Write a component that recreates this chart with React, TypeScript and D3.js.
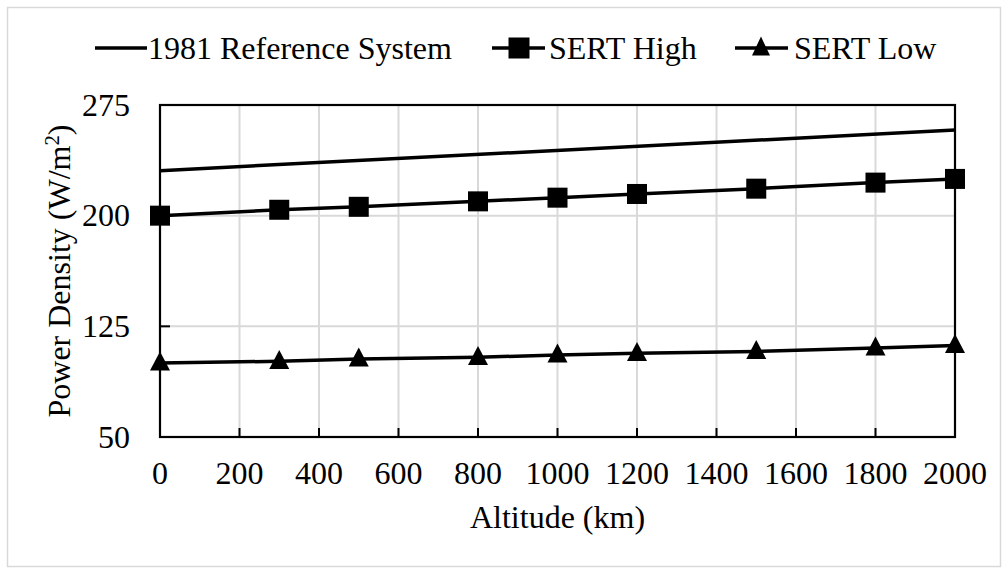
import React from "react";
import * as d3 from "d3";

const altitudes = [0, 300, 500, 800, 1000, 1200, 1500, 1800, 2000];
const sertHigh = [200, 204, 206, 209.7, 212.2, 214.7, 218.3, 222.4, 224.9];
const sertLow = [100.2, 101.3, 102.9, 104, 105.6, 106.7, 108, 110.4, 112];
const refAltitudes = [0, 2000];
const refValues = [230.5, 258];
const xTicks = [0, 200, 400, 600, 800, 1000, 1200, 1400, 1600, 1800, 2000];
const yTicks = [50, 125, 200, 275];
const seriesNames = ["1981 Reference System", "SERT High", "SERT Low"];

const W = 1008;
const H = 568;
const plot = { left: 160, right: 955, top: 105, bottom: 437 };
const FONT = "'Liberation Serif', 'Times New Roman', serif";
const FS = 32;

function Square({ x, y, s }: { x: number; y: number; s: number }) {
  return <rect x={x - s / 2} y={y - s / 2} width={s} height={s} fill="#000" />;
}
function Triangle({ x, y, w, h }: { x: number; y: number; w: number; h: number }) {
  return (
    <path
      d={`M${x},${y - h * 0.6}L${x + w / 2},${y + h * 0.4}L${x - w / 2},${y + h * 0.4}Z`}
      fill="#000"
    />
  );
}

export default function App() {
  const x = d3.scaleLinear().domain([0, 2000]).range([plot.left, plot.right]);
  const y = d3.scaleLinear().domain([50, 275]).range([plot.bottom, plot.top]);
  const line = d3
    .line<[number, number]>()
    .x((d) => x(d[0]))
    .y((d) => y(d[1]));

  const refPts = refAltitudes.map((a, i) => [a, refValues[i]] as [number, number]);
  const highPts = altitudes.map((a, i) => [a, sertHigh[i]] as [number, number]);
  const lowPts = altitudes.map((a, i) => [a, sertLow[i]] as [number, number]);

  const legendY = 48;

  return (
    <svg
      width={W}
      height={H}
      style={{ position: "absolute", left: 0, top: 0 }}
      fontFamily={FONT}
    >
      <rect x={0} y={0} width={W} height={H} fill="#fff" />
      <rect x={7.5} y={7.5} width={993} height={559} fill="none" stroke="#d9d9d9" strokeWidth={1.5} />

      {/* gridlines */}
      {xTicks.slice(1, -1).map((t) => (
        <line key={"gx" + t} x1={x(t)} x2={x(t)} y1={plot.top} y2={plot.bottom} stroke="#d9d9d9" strokeWidth={2} />
      ))}
      {yTicks.slice(1, -1).map((t) => (
        <line key={"gy" + t} x1={plot.left} x2={plot.right} y1={y(t)} y2={y(t)} stroke="#d9d9d9" strokeWidth={2} />
      ))}

      {/* ticks inside */}
      {xTicks.slice(1, -1).map((t) => (
        <line key={"tx" + t} x1={x(t)} x2={x(t)} y1={plot.bottom} y2={plot.bottom - 9} stroke="#000" strokeWidth={2} />
      ))}
      {yTicks.slice(1, -1).map((t) => (
        <line key={"ty" + t} x1={plot.left} x2={plot.left + 10} y1={y(t)} y2={y(t)} stroke="#000" strokeWidth={2} />
      ))}

      {/* frame */}
      <rect
        x={plot.left}
        y={plot.top}
        width={plot.right - plot.left}
        height={plot.bottom - plot.top}
        fill="none"
        stroke="#000"
        strokeWidth={2.2}
      />

      {/* series */}
      <path d={line(refPts) || ""} fill="none" stroke="#000" strokeWidth={3.5} />
      <path d={line(highPts) || ""} fill="none" stroke="#000" strokeWidth={3.5} />
      <path d={line(lowPts) || ""} fill="none" stroke="#000" strokeWidth={3.5} />
      {highPts.map((p, i) => (
        <Square key={"s" + i} x={x(p[0])} y={y(p[1])} s={20} />
      ))}
      {lowPts.map((p, i) => (
        <Triangle key={"t" + i} x={x(p[0])} y={y(p[1])} w={20} h={19} />
      ))}

      {/* tick labels */}
      {xTicks.map((t) => (
        <text key={"lx" + t} x={x(t)} y={484} textAnchor="middle" fontSize={FS} fill="#000">
          {t}
        </text>
      ))}
      {yTicks.map((t) => (
        <text key={"ly" + t} x={130} y={y(t) + 10.5} textAnchor="end" fontSize={FS} fill="#000">
          {t}
        </text>
      ))}

      {/* axis titles */}
      <text x={(plot.left + plot.right) / 2} y={528} textAnchor="middle" fontSize={FS} fill="#000">
        Altitude (km)
      </text>
      <text
        transform={`translate(70,${(plot.top + plot.bottom) / 2}) rotate(-90)`}
        textAnchor="middle"
        fontSize={FS}
        fill="#000"
      >
        Power Density (W/m
        <tspan baselineShift="super" fontSize={FS * 0.65}>2</tspan>
        )
      </text>

      {/* legend */}
      <line x1={95} x2={147} y1={legendY} y2={legendY} stroke="#000" strokeWidth={3.5} />
      <text x={148} y={59} fontSize={FS} fill="#000">{seriesNames[0]}</text>

      <line x1={492} x2={545} y1={legendY} y2={legendY} stroke="#000" strokeWidth={3.5} />
      <Square x={519} y={legendY} s={21} />
      <text x={549} y={59} fontSize={FS} fill="#000">{seriesNames[1]}</text>

      <line x1={735} x2={788} y1={legendY} y2={legendY} stroke="#000" strokeWidth={3.5} />
      <Triangle x={761} y={legendY} w={18} h={19} />
      <text x={794} y={59} fontSize={FS} fill="#000">{seriesNames[2]}</text>
    </svg>
  );
}
